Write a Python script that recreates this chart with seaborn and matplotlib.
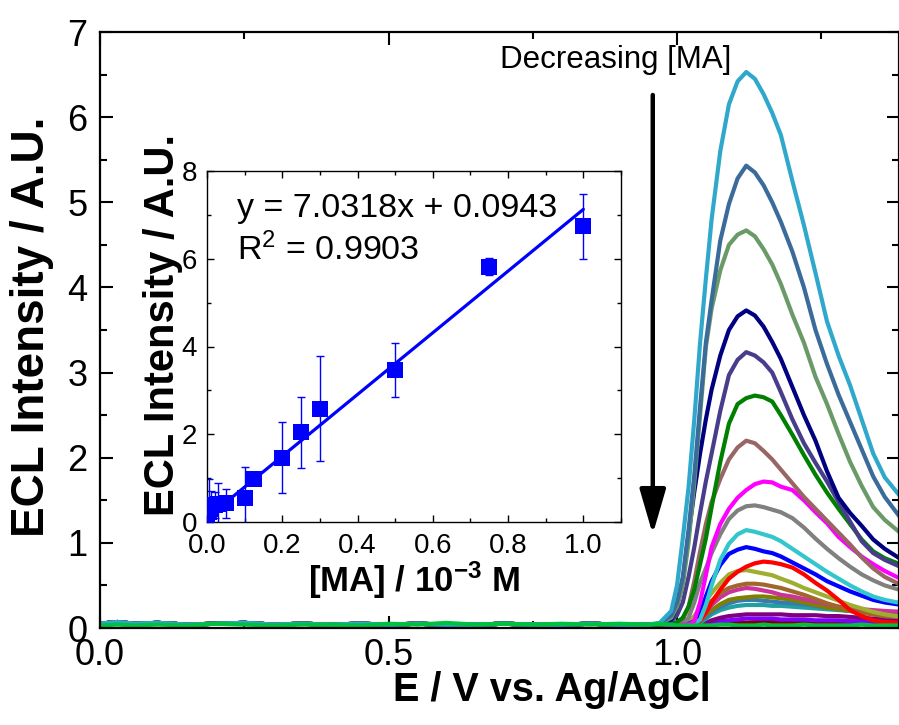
import matplotlib
matplotlib.use("Agg")
import matplotlib.pyplot as plt
from matplotlib.ticker import MultipleLocator, FormatStrFormatter
import numpy as np
import pandas as pd
import seaborn as sns

# ---------------- ECL potential scans ----------------
# flat region before onset (shared by the scans)
baseline_potential = [0.0, 0.03, 0.06, 0.1, 0.15, 0.2, 0.25, 0.3, 0.35, 0.4,
                      0.45, 0.5, 0.55, 0.6, 0.65, 0.7, 0.75, 0.8, 0.85, 0.9]
baseline_ecl = [0.05, 0.07, 0.05, 0.06, 0.04, 0.05, 0.06, 0.04, 0.05, 0.04,
                0.05, 0.04, 0.05, 0.04, 0.04, 0.05, 0.04, 0.04, 0.05, 0.04]
baseline_ecl_low = [0.03, 0.04, 0.03, 0.04, 0.03, 0.05, 0.04, 0.03, 0.04, 0.04,
                    0.03, 0.05, 0.04, 0.06, 0.04, 0.05, 0.04, 0.05, 0.04, 0.05]

# emission window
peak_potential = [0.95, 0.97, 0.99, 1.0, 1.01, 1.02, 1.03, 1.04, 1.05, 1.06,
                  1.075, 1.09, 1.105, 1.12, 1.135, 1.15, 1.165, 1.18, 1.2, 1.22,
                  1.24, 1.26, 1.28, 1.3, 1.32, 1.34, 1.36, 1.39]

ecl_01 = [0.04, 0.06, 0.2, 0.5, 1.05, 1.65, 2.45, 3.35, 4.1, 4.8, 5.6, 6.15, 6.42, 6.53,
          6.45, 6.27, 6.05, 5.79, 5.25, 4.73, 4.17, 3.6, 3.2, 2.85, 2.45, 2.05, 1.77, 1.52]
ecl_02 = [0.04, 0.05, 0.15, 0.3, 0.6, 1.15, 1.8, 2.6, 3.35, 3.85, 4.55, 4.98, 5.28, 5.43,
          5.35, 5.2, 5.0, 4.77, 4.42, 4.0, 3.5, 3.1, 2.74, 2.42, 2.1, 1.78, 1.54, 1.27]
ecl_03 = [0.04, 0.05, 0.12, 0.25, 0.5, 1.0, 1.7, 2.5, 3.3, 3.75, 4.2, 4.5, 4.62, 4.67,
          4.6, 4.45, 4.27, 4.04, 3.68, 3.35, 2.95, 2.63, 2.28, 1.95, 1.67, 1.42, 1.27, 1.1]
ecl_04 = [0.04, 0.05, 0.1, 0.25, 0.55, 1.1, 1.6, 2.05, 2.45, 2.8, 3.2, 3.5, 3.66, 3.73,
          3.67, 3.54, 3.36, 3.16, 2.83, 2.5, 2.2, 1.84, 1.53, 1.35, 1.2, 1.04, 0.93, 0.8]
ecl_05 = [0.04, 0.05, 0.08, 0.15, 0.3, 0.6, 0.95, 1.35, 1.72, 2.05, 2.55, 2.97, 3.15, 3.24,
          3.2, 3.12, 3.0, 2.77, 2.45, 2.17, 1.94, 1.72, 1.48, 1.25, 1.02, 0.88, 0.8, 0.71]
ecl_06 = [0.04, 0.04, 0.05, 0.07, 0.12, 0.25, 0.45, 0.75, 1.05, 1.42, 1.95, 2.4, 2.63, 2.7,
          2.73, 2.71, 2.66, 2.5, 2.27, 2.03, 1.8, 1.59, 1.4, 1.22, 1.04, 0.9, 0.82, 0.74]
ecl_07 = [0.04, 0.04, 0.05, 0.06, 0.1, 0.25, 0.55, 0.9, 1.22, 1.48, 1.75, 1.98, 2.12, 2.2,
          2.17, 2.08, 1.98, 1.86, 1.7, 1.54, 1.4, 1.26, 1.12, 0.98, 0.83, 0.7, 0.6, 0.5]
ecl_08 = [0.04, 0.04, 0.04, 0.04, 0.04, 0.04, 0.08, 0.3, 0.62, 0.95, 1.22, 1.4, 1.53, 1.62,
          1.69, 1.72, 1.71, 1.66, 1.62, 1.5, 1.36, 1.23, 1.07, 0.95, 0.84, 0.75, 0.67, 0.57]
ecl_09 = [0.04, 0.04, 0.04, 0.04, 0.05, 0.12, 0.3, 0.53, 0.7, 0.88, 1.1, 1.28, 1.38, 1.43,
          1.44, 1.42, 1.39, 1.36, 1.29, 1.18, 1.05, 0.93, 0.82, 0.72, 0.63, 0.56, 0.5, 0.44]
ecl_10 = [0.04, 0.04, 0.04, 0.04, 0.04, 0.04, 0.05, 0.1, 0.27, 0.5, 0.8, 0.99, 1.1, 1.15,
          1.13, 1.1, 1.07, 1.02, 0.93, 0.84, 0.75, 0.66, 0.58, 0.5, 0.43, 0.37, 0.33, 0.29]
ecl_11 = [0.04, 0.04, 0.04, 0.04, 0.04, 0.05, 0.08, 0.18, 0.37, 0.55, 0.74, 0.87, 0.92, 0.95,
          0.93, 0.9, 0.88, 0.84, 0.77, 0.7, 0.63, 0.55, 0.49, 0.43, 0.38, 0.33, 0.3, 0.27]
ecl_12 = [0.03, 0.03, 0.03, 0.03, 0.03, 0.03, 0.04, 0.09, 0.18, 0.3, 0.45, 0.58, 0.66, 0.72,
          0.76, 0.78, 0.77, 0.75, 0.71, 0.63, 0.53, 0.44, 0.33, 0.21, 0.14, 0.09, 0.07, 0.06]
ecl_13 = [0.03, 0.03, 0.03, 0.03, 0.04, 0.07, 0.14, 0.24, 0.32, 0.41, 0.53, 0.63, 0.67, 0.68,
          0.66, 0.64, 0.62, 0.58, 0.53, 0.47, 0.42, 0.37, 0.32, 0.27, 0.23, 0.19, 0.16, 0.13]
ecl_14 = [0.03, 0.03, 0.03, 0.03, 0.03, 0.03, 0.05, 0.12, 0.24, 0.32, 0.41, 0.47, 0.5, 0.52,
          0.52, 0.51, 0.49, 0.47, 0.43, 0.39, 0.34, 0.29, 0.25, 0.21, 0.18, 0.16, 0.14, 0.13]
ecl_15 = [0.03, 0.03, 0.03, 0.03, 0.03, 0.03, 0.04, 0.09, 0.18, 0.27, 0.36, 0.42, 0.45, 0.47,
          0.46, 0.44, 0.42, 0.39, 0.37, 0.34, 0.31, 0.28, 0.25, 0.23, 0.22, 0.21, 0.2, 0.19]
ecl_16 = [0.03, 0.03, 0.03, 0.03, 0.03, 0.03, 0.04, 0.08, 0.16, 0.21, 0.28, 0.33, 0.35, 0.36,
          0.37, 0.37, 0.36, 0.35, 0.33, 0.3, 0.27, 0.24, 0.22, 0.2, 0.18, 0.16, 0.14, 0.13]
ecl_17 = [0.03, 0.03, 0.03, 0.03, 0.03, 0.03, 0.04, 0.07, 0.13, 0.19, 0.25, 0.29, 0.32, 0.33,
          0.33, 0.32, 0.31, 0.3, 0.29, 0.28, 0.26, 0.24, 0.22, 0.2, 0.19, 0.17, 0.16, 0.15]
ecl_18 = [0.03, 0.03, 0.03, 0.03, 0.03, 0.03, 0.03, 0.06, 0.11, 0.16, 0.21, 0.24, 0.26, 0.27,
          0.27, 0.27, 0.26, 0.26, 0.25, 0.24, 0.23, 0.22, 0.21, 0.2, 0.19, 0.18, 0.17, 0.15]
ecl_19 = [0.03, 0.03, 0.03, 0.03, 0.03, 0.03, 0.03, 0.04, 0.06, 0.09, 0.12, 0.14, 0.15, 0.16,
          0.16, 0.16, 0.16, 0.16, 0.15, 0.15, 0.15, 0.14, 0.14, 0.13, 0.12, 0.11, 0.1, 0.09]
ecl_20 = [0.03, 0.03, 0.03, 0.03, 0.03, 0.03, 0.03, 0.03, 0.05, 0.06, 0.08, 0.09, 0.1, 0.11,
          0.11, 0.11, 0.11, 0.1, 0.1, 0.1, 0.09, 0.09, 0.09, 0.08, 0.08, 0.08, 0.07, 0.07]
ecl_21 = [0.03, 0.03, 0.03, 0.03, 0.03, 0.03, 0.03, 0.03, 0.03, 0.04, 0.05, 0.06, 0.06, 0.06,
          0.07, 0.07, 0.07, 0.07, 0.07, 0.07, 0.07, 0.06, 0.06, 0.06, 0.06, 0.05, 0.05, 0.05]
ecl_22 = [0.04, 0.05, 0.04, 0.03, 0.03, 0.03, 0.03, 0.03, 0.03, 0.03, 0.04, 0.04, 0.03, 0.03,
          0.03, 0.04, 0.03, 0.03, 0.03, 0.04, 0.03, 0.03, 0.03, 0.03, 0.04, 0.03, 0.03, 0.03]

scan_colors = ["#2fa8cc", "#3a6b9a", "#6a9a68", "#000080", "#483d8b", "#008000",
               "#996666", "#ff00ff", "#808080", "#33c6cc", "#0000ff", "#ff0000",
               "#9fae30", "#a0662a", "#cc3399", "#808000", "#3a78b0", "#20a0a0",
               "#800080", "#8000ff", "#800000", "#00c040"]

# ---------------- calibration (inset) ----------------
ma_conc = [0.001, 0.005, 0.01, 0.02, 0.03, 0.05, 0.1, 0.125, 0.2, 0.25, 0.3, 0.5, 0.75, 1.0]
ecl_mean = [0.15, 0.22, 0.3, 0.38, 0.4, 0.43, 0.55, 0.98, 1.47, 2.04, 2.58, 3.46, 5.82, 6.74]
ecl_sd = [0.3, 0.75, 0.4, 0.3, 0.5, 0.33, 0.71, 0.1, 0.8, 0.82, 1.2, 0.62, 0.19, 0.74]
fit_slope = 7.0318
fit_intercept = 0.0943
fit_range = [0.0, 1.0]

# ---------------- style ----------------
sns.set_theme(style="ticks")
plt.rcParams["font.family"] = ["Liberation Sans", "DejaVu Sans"]
plt.rcParams["text.color"] = "black"
plt.rcParams["axes.labelcolor"] = "black"
plt.rcParams["mathtext.fontset"] = "custom"
plt.rcParams["mathtext.rm"] = "Liberation Sans"
plt.rcParams["mathtext.bf"] = "Liberation Sans:bold"
plt.rcParams["mathtext.it"] = "Liberation Sans:italic"

W, H = 899, 725
fig = plt.figure(figsize=(W / 100, H / 100), dpi=100)


def frac_box(x0, y0, x1, y1):
    return [x0 / W, 1 - y1 / H, (x1 - x0) / W, (y1 - y0) / H]


ax = fig.add_axes(frac_box(100, 32, 899, 628))

curve_sets = [ecl_01, ecl_02, ecl_03, ecl_04, ecl_05, ecl_06, ecl_07, ecl_08, ecl_09, ecl_10,
              ecl_11, ecl_12, ecl_13, ecl_14, ecl_15, ecl_16, ecl_17, ecl_18, ecl_19, ecl_20,
              ecl_21, ecl_22]
frames = []
for i, vals in enumerate(curve_sets):
    base = baseline_ecl_low if i == len(curve_sets) - 1 else baseline_ecl
    frames.append(pd.DataFrame({
        "E": baseline_potential + peak_potential,
        "I": base + vals,
        "scan": f"s{i + 1:02d}",
    }))
scans = pd.concat(frames, ignore_index=True)

# smallest scans first, largest on top, low baseline trace last
order = [f"s{i:02d}" for i in range(21, 0, -1)] + ["s22"]
palette = {f"s{i + 1:02d}": c for i, c in enumerate(scan_colors)}
sns.lineplot(data=scans, x="E", y="I", hue="scan", hue_order=order, palette=palette,
             linewidth=3.0, legend=False, ax=ax, estimator=None, sort=False)

ax.set_xlim(0, 799 / 577)
ax.set_ylim(0, 7)
ax.xaxis.set_major_locator(MultipleLocator(0.5))
ax.xaxis.set_minor_locator(MultipleLocator(0.25))
ax.yaxis.set_major_locator(MultipleLocator(1))
ax.yaxis.set_minor_locator(MultipleLocator(0.5))
ax.xaxis.set_major_formatter(FormatStrFormatter("%.1f"))
ax.tick_params(which="both", direction="in", top=True, right=True, width=1.5,
               labelsize=26, colors="black")
ax.tick_params(which="major", length=9)
ax.tick_params(which="minor", length=5)
ax.tick_params(axis="x", pad=7)
ax.tick_params(axis="y", pad=9)
for s in ax.spines.values():
    s.set_linewidth(1.6)
    s.set_color("black")
ax.set_xlabel("")
ax.set_ylabel("")
fig.text(552 / W, 1 - 690 / H, "E / V vs. Ag/AgCl", fontsize=28.5, fontweight="bold",
         ha="center", va="center", color="black")
fig.text(32 / W, 1 - 327 / H, "ECL Intensity / A.U.", fontsize=33, fontweight="bold",
         ha="center", va="center", rotation=90, color="black")

ax.text(0.894, 6.58, "Decreasing [MA]", fontsize=22.5, ha="center", va="baseline",
        color="black")
ax.annotate("", xy=(0.958, 1.1), xytext=(0.958, 6.26),
            arrowprops=dict(arrowstyle="-|>,head_length=1.1,head_width=0.32",
                            lw=3.2, color="black", mutation_scale=25,
                            shrinkA=0, shrinkB=0))

# ---------------- inset ----------------
ins = fig.add_axes(frac_box(207, 171, 621, 522))
ins.set_facecolor("white")
fit_y = [fit_slope * x + fit_intercept for x in fit_range]
sns.lineplot(x=fit_range, y=fit_y, color="#0000ff", linewidth=2.3, ax=ins)
ins.errorbar(ma_conc, ecl_mean, yerr=ecl_sd, fmt="none", ecolor="#0000ff",
             elinewidth=1.0, capsize=3, capthick=1.0)
sns.scatterplot(x=ma_conc, y=ecl_mean, marker="s", s=125, color="#0000ff",
                edgecolor="#0000ff", linewidth=0, ax=ins, zorder=5)
ins.set_xlim(0, 1.1)
ins.set_ylim(0, 8)
ins.xaxis.set_major_locator(MultipleLocator(0.2))
ins.xaxis.set_minor_locator(MultipleLocator(0.1))
ins.yaxis.set_major_locator(MultipleLocator(2))
ins.yaxis.set_minor_locator(MultipleLocator(1))
ins.xaxis.set_major_formatter(FormatStrFormatter("%.1f"))
ins.tick_params(which="both", direction="in", top=True, right=True, width=1.0,
                labelsize=20, colors="black")
ins.tick_params(axis="x", pad=8)
ins.tick_params(axis="y", pad=7)
ins.tick_params(which="major", length=5)
ins.tick_params(which="minor", length=3)
for s in ins.spines.values():
    s.set_linewidth(1.0)
    s.set_color("black")
ins.set_xlabel(r"$\mathbf{[MA]\ /\ 10^{-3}\ M}$", fontsize=25, labelpad=0, color="black")
ins.set_ylabel("")
fig.text(163 / W, 1 - 325 / H, "ECL Intensity / A.U.", fontsize=30, fontweight="bold",
         ha="center", va="center", rotation=90, color="black")
ins.text(0.08, 7.15, "y = 7.0318x + 0.0943", fontsize=24.5, ha="left", va="center",
         color="black")
ins.text(0.08, 6.2, r"R$^2$ = 0.9903", fontsize=24.5, ha="left", va="center",
         color="black")

fig.savefig("out.png", dpi=100)
